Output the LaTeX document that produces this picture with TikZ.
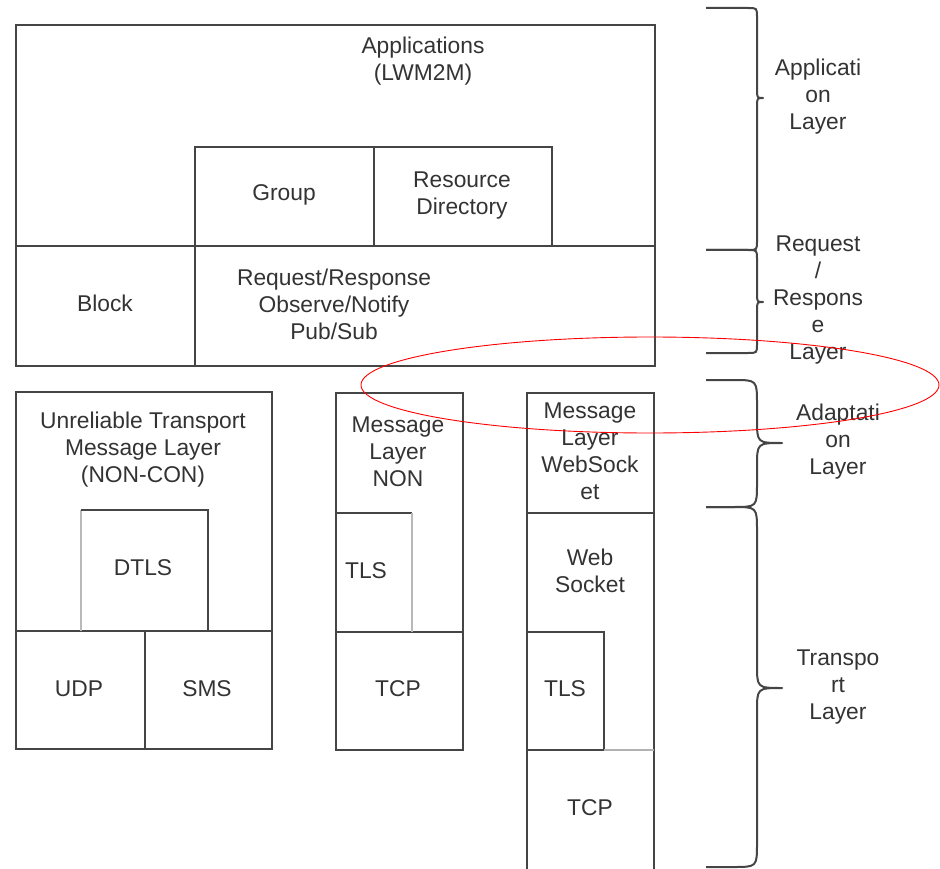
\documentclass[tikz,border=0pt]{standalone}
\usepackage{fontspec}
\setmainfont{Liberation Sans}
\definecolor{linegray}{HTML}{454545}
\definecolor{txt}{HTML}{333333}
% curly brace on the right: top y, bottom y, middle y, tip x, corner size
\newcommand\layerbrace[5]{%
  \draw[brace] (706,#1) -- ({757-#5},#1) .. controls (757,#1) .. (757,{#1+#5})
    -- (757,{#3-#5}) .. controls (757,#3) .. (#4,#3)
    .. controls (757,#3) .. (757,{#3+#5})
    -- (757,{#2-#5}) .. controls (757,#2) .. ({757-#5},#2) -- (706,#2);}
\begin{document}
\begin{tikzpicture}[x=1pt,y=-1pt,
  box/.style={draw=linegray, line width=2pt},
  faint/.style={draw=gray!55, line width=1.5pt},
  lbl/.style={align=center, text=txt, font=\fontsize{22.8}{27}\selectfont, inner sep=0pt},
  brace/.style={draw=linegray, line width=2pt, line join=round}]
\useasboundingbox (0,0) rectangle (940,869);

% upper stack
\draw[box] (16,25) rectangle (655,366);
\draw[box] (16,246) -- (655,246);
\draw[box] (195,246) -- (195,366);
\draw[box] (195,246) -- (195,147) -- (552,147) -- (552,246);
\draw[box] (374,147) -- (374,246);

\node[lbl] (apps) at (423,61) {Applications\\(LWM2M)};
\node[lbl] (group) at (284,195) {Group};
\node[lbl] (rd) at (462,196) {Resource\\Directory};
\node[lbl] (block) at (105,303) {Block};
\node[lbl] (reqresp) at (334,304) {Request/Response\\Observe/Notify\\Pub/Sub};

% left column: UDP / SMS
\draw[box] (16,392) rectangle (272,749);
\draw[box] (16,631) -- (272,631);
\draw[box] (145,631) -- (145,749);
\draw[faint] (81,631) -- (81,510);
\draw[box] (81,510) -- (208,510) -- (208,631);
\node[lbl] (unrel) at (143,450) {Unreliable Transport\\Message Layer\\(NON-CON)};
\node[lbl] (dtls) at (143,568) {DTLS};
\node[lbl] (udp) at (79,689) {UDP};
\node[lbl] (sms) at (207,689) {SMS};

% middle column: TCP
\draw[box] (336,393) rectangle (463,750);
\draw[box] (336,632) -- (463,632);
\draw[box] (336,513) -- (412,513);
\draw[faint] (412,513) -- (412,632);
\node[lbl] (msgnon) at (398,452) {Message\\Layer\\NON};
\node[lbl] (tls1) at (366,571) {TLS};
\node[lbl] (tcp1) at (398,689) {TCP};

% right column: WebSocket
\draw[box] (527,875) -- (527,393) -- (654,393) -- (654,875);
\draw[box] (527,513) -- (654,513);
\draw[box] (527,632) -- (604,632) -- (604,750) -- (527,750);
\draw[draw=gray!60, line width=1.2pt] (604,750) -- (654,750);
\node[lbl] (msgws) at (590,451) {Message\\Layer\\WebSock\\et};
\node[lbl] (ws) at (590,571) {Web\\Socket};
\node[lbl] (tls2) at (565,689) {TLS};
\node[lbl] (tcp2) at (590,808) {TCP};

% layer braces and their labels
\layerbrace{8}{250}{98}{763}{9}
\layerbrace{250}{353}{302}{763}{9}
\layerbrace{380}{507}{443}{782}{24}
\layerbrace{507}{867}{688}{782}{24}
\node[lbl] (applayer) at (818,97) {Applicati\\on\\Layer};
\node[lbl] (rrlayer) at (818,300) {Request\\/\\Respons\\e\\Layer};
\node[lbl] (adlayer) at (838,442) {Adaptati\\on\\Layer};
\node[lbl] (trlayer) at (838,687) {Transpo\\rt\\Layer};

% highlight
\draw[red, line width=0.9pt] (650,385) ellipse [x radius=289pt, y radius=48pt];
\end{tikzpicture}
\end{document}
